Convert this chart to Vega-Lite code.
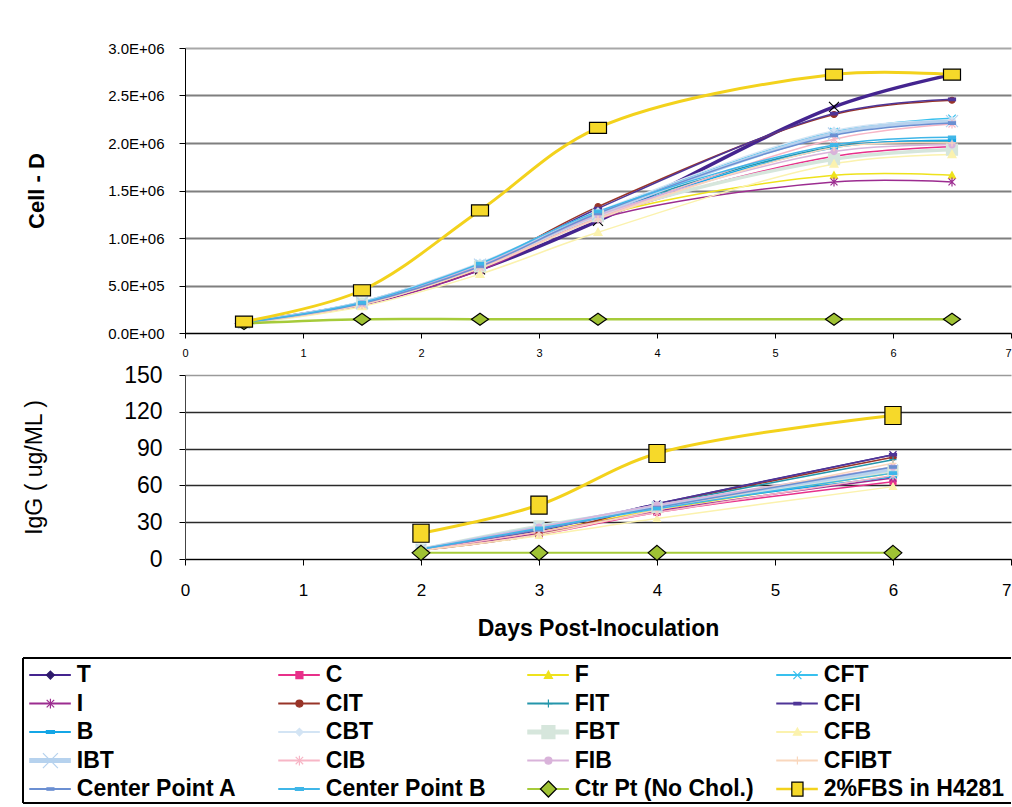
{
  "$schema": "https://vega.github.io/schema/vega-lite/v6.json",
  "background": "white",
  "padding": {"left": 22, "top": 41, "right": 0, "bottom": 0},
  "config": {
    "font": "Liberation Sans",
    "view": {"stroke": null},
    "axis": {"labelColor": "#000", "titleColor": "#000", "domainColor": "#000", "tickColor": "#000", "labelFont": "Liberation Sans", "titleFont": "Liberation Sans"}
  },
  "datasets": {
    "cell": [
      {"series": "T", "day": 0.5, "value": 110000}, {"series": "T", "day": 1.5, "value": 310000}, {"series": "T", "day": 2.5, "value": 670000}, {"series": "T", "day": 3.5, "value": 1180000}, {"series": "T", "day": 5.5, "value": 2380000}, {"series": "T", "day": 6.5, "value": 2720000},
      {"series": "C", "day": 0.5, "value": 110000}, {"series": "C", "day": 1.5, "value": 300000}, {"series": "C", "day": 2.5, "value": 680000}, {"series": "C", "day": 3.5, "value": 1210000}, {"series": "C", "day": 5.5, "value": 1860000}, {"series": "C", "day": 6.5, "value": 1960000},
      {"series": "F", "day": 0.5, "value": 110000}, {"series": "F", "day": 1.5, "value": 300000}, {"series": "F", "day": 2.5, "value": 680000}, {"series": "F", "day": 3.5, "value": 1220000}, {"series": "F", "day": 5.5, "value": 1660000}, {"series": "F", "day": 6.5, "value": 1660000},
      {"series": "CFT", "day": 0.5, "value": 110000}, {"series": "CFT", "day": 1.5, "value": 330000}, {"series": "CFT", "day": 2.5, "value": 730000}, {"series": "CFT", "day": 3.5, "value": 1270000}, {"series": "CFT", "day": 5.5, "value": 2120000}, {"series": "CFT", "day": 6.5, "value": 2260000},
      {"series": "I", "day": 0.5, "value": 110000}, {"series": "I", "day": 1.5, "value": 290000}, {"series": "I", "day": 2.5, "value": 660000}, {"series": "I", "day": 3.5, "value": 1200000}, {"series": "I", "day": 5.5, "value": 1590000}, {"series": "I", "day": 6.5, "value": 1590000},
      {"series": "CIT", "day": 0.5, "value": 110000}, {"series": "CIT", "day": 1.5, "value": 320000}, {"series": "CIT", "day": 2.5, "value": 710000}, {"series": "CIT", "day": 3.5, "value": 1330000}, {"series": "CIT", "day": 5.5, "value": 2300000}, {"series": "CIT", "day": 6.5, "value": 2450000},
      {"series": "FIT", "day": 0.5, "value": 110000}, {"series": "FIT", "day": 1.5, "value": 320000}, {"series": "FIT", "day": 2.5, "value": 720000}, {"series": "FIT", "day": 3.5, "value": 1260000}, {"series": "FIT", "day": 5.5, "value": 1960000}, {"series": "FIT", "day": 6.5, "value": 2020000},
      {"series": "CFI", "day": 0.5, "value": 110000}, {"series": "CFI", "day": 1.5, "value": 310000}, {"series": "CFI", "day": 2.5, "value": 700000}, {"series": "CFI", "day": 3.5, "value": 1310000}, {"series": "CFI", "day": 5.5, "value": 2310000}, {"series": "CFI", "day": 6.5, "value": 2460000},
      {"series": "B", "day": 0.5, "value": 110000}, {"series": "B", "day": 1.5, "value": 320000}, {"series": "B", "day": 2.5, "value": 720000}, {"series": "B", "day": 3.5, "value": 1240000}, {"series": "B", "day": 5.5, "value": 1950000}, {"series": "B", "day": 6.5, "value": 2030000},
      {"series": "CBT", "day": 0.5, "value": 110000}, {"series": "CBT", "day": 1.5, "value": 330000}, {"series": "CBT", "day": 2.5, "value": 740000}, {"series": "CBT", "day": 3.5, "value": 1280000}, {"series": "CBT", "day": 5.5, "value": 2130000}, {"series": "CBT", "day": 6.5, "value": 2240000},
      {"series": "FBT", "day": 0.5, "value": 110000}, {"series": "FBT", "day": 1.5, "value": 310000}, {"series": "FBT", "day": 2.5, "value": 700000}, {"series": "FBT", "day": 3.5, "value": 1230000}, {"series": "FBT", "day": 5.5, "value": 1830000}, {"series": "FBT", "day": 6.5, "value": 1930000},
      {"series": "CFB", "day": 0.5, "value": 100000}, {"series": "CFB", "day": 1.5, "value": 280000}, {"series": "CFB", "day": 2.5, "value": 620000}, {"series": "CFB", "day": 3.5, "value": 1060000}, {"series": "CFB", "day": 5.5, "value": 1780000}, {"series": "CFB", "day": 6.5, "value": 1880000},
      {"series": "IBT", "day": 0.5, "value": 110000}, {"series": "IBT", "day": 1.5, "value": 320000}, {"series": "IBT", "day": 2.5, "value": 720000}, {"series": "IBT", "day": 3.5, "value": 1250000}, {"series": "IBT", "day": 5.5, "value": 2100000}, {"series": "IBT", "day": 6.5, "value": 2230000},
      {"series": "CIB", "day": 0.5, "value": 110000}, {"series": "CIB", "day": 1.5, "value": 300000}, {"series": "CIB", "day": 2.5, "value": 690000}, {"series": "CIB", "day": 3.5, "value": 1210000}, {"series": "CIB", "day": 5.5, "value": 2040000}, {"series": "CIB", "day": 6.5, "value": 2200000},
      {"series": "FIB", "day": 0.5, "value": 110000}, {"series": "FIB", "day": 1.5, "value": 310000}, {"series": "FIB", "day": 2.5, "value": 710000}, {"series": "FIB", "day": 3.5, "value": 1240000}, {"series": "FIB", "day": 5.5, "value": 1910000}, {"series": "FIB", "day": 6.5, "value": 1980000},
      {"series": "CFIBT", "day": 0.5, "value": 110000}, {"series": "CFIBT", "day": 1.5, "value": 300000}, {"series": "CFIBT", "day": 2.5, "value": 680000}, {"series": "CFIBT", "day": 3.5, "value": 1200000}, {"series": "CFIBT", "day": 5.5, "value": 1950000}, {"series": "CFIBT", "day": 6.5, "value": 2000000},
      {"series": "Center Point A", "day": 0.5, "value": 110000}, {"series": "Center Point A", "day": 1.5, "value": 310000}, {"series": "Center Point A", "day": 2.5, "value": 700000}, {"series": "Center Point A", "day": 3.5, "value": 1260000}, {"series": "Center Point A", "day": 5.5, "value": 2080000}, {"series": "Center Point A", "day": 6.5, "value": 2210000},
      {"series": "Center Point B", "day": 0.5, "value": 110000}, {"series": "Center Point B", "day": 1.5, "value": 320000}, {"series": "Center Point B", "day": 2.5, "value": 730000}, {"series": "Center Point B", "day": 3.5, "value": 1280000}, {"series": "Center Point B", "day": 5.5, "value": 1980000}, {"series": "Center Point B", "day": 6.5, "value": 2060000},
      {"series": "Ctr Pt (No Chol.)", "day": 0.5, "value": 100000}, {"series": "Ctr Pt (No Chol.)", "day": 1.5, "value": 145000}, {"series": "Ctr Pt (No Chol.)", "day": 2.5, "value": 145000}, {"series": "Ctr Pt (No Chol.)", "day": 3.5, "value": 145000}, {"series": "Ctr Pt (No Chol.)", "day": 5.5, "value": 145000}, {"series": "Ctr Pt (No Chol.)", "day": 6.5, "value": 145000},
      {"series": "2%FBS in H4281", "day": 0.5, "value": 120000}, {"series": "2%FBS in H4281", "day": 1.5, "value": 450000}, {"series": "2%FBS in H4281", "day": 2.5, "value": 1290000}, {"series": "2%FBS in H4281", "day": 3.5, "value": 2160000}, {"series": "2%FBS in H4281", "day": 5.5, "value": 2720000}, {"series": "2%FBS in H4281", "day": 6.5, "value": 2720000}
    ],
    "igg": [
      {"series": "T", "day": 2, "value": 7}, {"series": "T", "day": 3, "value": 23}, {"series": "T", "day": 4, "value": 45}, {"series": "T", "day": 6, "value": 85},
      {"series": "C", "day": 2, "value": 7}, {"series": "C", "day": 3, "value": 20}, {"series": "C", "day": 4, "value": 38}, {"series": "C", "day": 6, "value": 63},
      {"series": "F", "day": 2, "value": 7}, {"series": "F", "day": 3, "value": 22}, {"series": "F", "day": 4, "value": 40}, {"series": "F", "day": 6, "value": 70},
      {"series": "CFT", "day": 2, "value": 8}, {"series": "CFT", "day": 3, "value": 25}, {"series": "CFT", "day": 4, "value": 42}, {"series": "CFT", "day": 6, "value": 72},
      {"series": "I", "day": 2, "value": 7}, {"series": "I", "day": 3, "value": 21}, {"series": "I", "day": 4, "value": 39}, {"series": "I", "day": 6, "value": 66},
      {"series": "CIT", "day": 2, "value": 7}, {"series": "CIT", "day": 3, "value": 20}, {"series": "CIT", "day": 4, "value": 44}, {"series": "CIT", "day": 6, "value": 83},
      {"series": "FIT", "day": 2, "value": 8}, {"series": "FIT", "day": 3, "value": 24}, {"series": "FIT", "day": 4, "value": 44}, {"series": "FIT", "day": 6, "value": 81},
      {"series": "CFI", "day": 2, "value": 7}, {"series": "CFI", "day": 3, "value": 24}, {"series": "CFI", "day": 4, "value": 45}, {"series": "CFI", "day": 6, "value": 85},
      {"series": "B", "day": 2, "value": 8}, {"series": "B", "day": 3, "value": 25}, {"series": "B", "day": 4, "value": 42}, {"series": "B", "day": 6, "value": 67},
      {"series": "CBT", "day": 2, "value": 8}, {"series": "CBT", "day": 3, "value": 26}, {"series": "CBT", "day": 4, "value": 44}, {"series": "CBT", "day": 6, "value": 74},
      {"series": "FBT", "day": 2, "value": 8}, {"series": "FBT", "day": 3, "value": 27}, {"series": "FBT", "day": 4, "value": 42}, {"series": "FBT", "day": 6, "value": 72},
      {"series": "CFB", "day": 2, "value": 7}, {"series": "CFB", "day": 3, "value": 19}, {"series": "CFB", "day": 4, "value": 33}, {"series": "CFB", "day": 6, "value": 59},
      {"series": "IBT", "day": 2, "value": 8}, {"series": "IBT", "day": 3, "value": 26}, {"series": "IBT", "day": 4, "value": 43}, {"series": "IBT", "day": 6, "value": 73},
      {"series": "CIB", "day": 2, "value": 7}, {"series": "CIB", "day": 3, "value": 22}, {"series": "CIB", "day": 4, "value": 38}, {"series": "CIB", "day": 6, "value": 68},
      {"series": "FIB", "day": 2, "value": 8}, {"series": "FIB", "day": 3, "value": 26}, {"series": "FIB", "day": 4, "value": 44}, {"series": "FIB", "day": 6, "value": 75},
      {"series": "CFIBT", "day": 2, "value": 7}, {"series": "CFIBT", "day": 3, "value": 20}, {"series": "CFIBT", "day": 4, "value": 40}, {"series": "CFIBT", "day": 6, "value": 78},
      {"series": "Center Point A", "day": 2, "value": 8}, {"series": "Center Point A", "day": 3, "value": 24}, {"series": "Center Point A", "day": 4, "value": 42}, {"series": "Center Point A", "day": 6, "value": 75},
      {"series": "Center Point B", "day": 2, "value": 8}, {"series": "Center Point B", "day": 3, "value": 25}, {"series": "Center Point B", "day": 4, "value": 41}, {"series": "Center Point B", "day": 6, "value": 70},
      {"series": "Ctr Pt (No Chol.)", "day": 2, "value": 5}, {"series": "Ctr Pt (No Chol.)", "day": 3, "value": 5}, {"series": "Ctr Pt (No Chol.)", "day": 4, "value": 5}, {"series": "Ctr Pt (No Chol.)", "day": 6, "value": 5},
      {"series": "2%FBS in H4281", "day": 2, "value": 21}, {"series": "2%FBS in H4281", "day": 3, "value": 44}, {"series": "2%FBS in H4281", "day": 4, "value": 86}, {"series": "2%FBS in H4281", "day": 6, "value": 117}
    ],
    "legend": [
      {"series": "T"}, {"series": "C"}, {"series": "F"}, {"series": "CFT"},
      {"series": "I"}, {"series": "CIT"}, {"series": "FIT"}, {"series": "CFI"},
      {"series": "B"}, {"series": "CBT"}, {"series": "FBT"}, {"series": "CFB"},
      {"series": "IBT"}, {"series": "CIB"}, {"series": "FIB"}, {"series": "CFIBT"},
      {"series": "Center Point A"}, {"series": "Center Point B"}, {"series": "Ctr Pt (No Chol.)"}, {"series": "2%FBS in H4281"}
    ]
  },
  "resolve": {"scale": {"shape": "independent", "size": "independent", "color": "independent", "fill": "independent", "stroke": "independent", "strokeWidth": "independent"}},
  "spacing": 17,
  "vconcat": [
    {
      "spacing": 6,
      "resolve": {"scale": {"shape": "independent", "size": "independent", "color": "independent", "fill": "independent", "stroke": "independent", "strokeWidth": "independent"}},
      "vconcat": [
        {
          "width": 826,
          "height": 285,
          "data": {"name": "cell"},
          "encoding": {
            "x": {"field": "day", "type": "quantitative", "scale": {"domain": [0, 7], "nice": false},
              "axis": {"values": [0, 1, 2, 3, 4, 5, 6, 7], "title": null, "grid": false, "labelFontSize": 11, "tickSize": 5, "labelPadding": 9,
                "labelAlign": {"condition": {"test": "datum.value == 7", "value": "right"}, "value": "center"}}},
            "y": {"field": "value", "type": "quantitative", "scale": {"domain": [0, 3000000], "nice": false},
              "axis": {"values": [0, 500000, 1000000, 1500000, 2000000, 2500000, 3000000], "title": "Cell - D", "titleFontSize": 22, "titleFontWeight": "bold", "titlePadding": 59,
                "labelFontSize": 15, "labelPadding": 15, "tickSize": 6, "grid": true, "gridWidth": 1.8,
                "gridColor": {"condition": {"test": "datum.value == 3000000", "value": "#a8a8a8"}, "value": "#7f7f7f"},
                "labelExpr": "datum.value == 0 ? '0.0E+00' : (datum.value < 1000000 ? format(datum.value / 100000, '.1f') + 'E+05' : format(datum.value / 1000000, '.1f') + 'E+06')"}}
          },
          "layer": [
            {
              "mark": {"type": "line", "interpolate": "catmull-rom"},
              "encoding": {
                "color": {"field": "series", "type": "nominal", "legend": null, "scale": {"domain": ["T","C","F","CFT","I","CIT","FIT","CFI","B","CBT","FBT","CFB","IBT","CIB","FIB","CFIBT","Center Point A","Center Point B","Ctr Pt (No Chol.)","2%FBS in H4281"], "range": ["#44248f","#e8308a","#eee21c","#38c0ee","#9c2c90","#983428","#2496ab","#4f3597","#14a6e6","#d3e4f4","#d6e6dc","#fbf2ae","#b6d2ee","#f7b6c6","#d9b3da","#f9d7bd","#6b8fd2","#3fb6e8","#a6cb3a","#f3d21c"]}},
                "strokeWidth": {"field": "series", "type": "nominal", "legend": null, "scale": {"type": "ordinal", "domain": ["T","C","F","CFT","I","CIT","FIT","CFI","B","CBT","FBT","CFB","IBT","CIB","FIB","CFIBT","Center Point A","Center Point B","Ctr Pt (No Chol.)","2%FBS in H4281"], "range": [3.5,1.5,1.5,1.5,1.5,1.5,1.5,1.5,1.5,1.5,3.5,1.5,3.5,1.5,1.5,1.5,1.5,1.5,2.5,3]}}
              }
            },
            {
              "transform": [{"window": [{"op": "row_number", "as": "ord"}]}],
              "mark": {"type": "point", "filled": true, "opacity": 1, "strokeWidth": 1.2},
              "encoding": {
                "order": {"field": "ord", "type": "quantitative", "sort": "ascending"},
                "shape": {"field": "series", "type": "nominal", "legend": null, "scale": {"domain": ["T","C","F","CFT","I","CIT","FIT","CFI","B","CBT","FBT","CFB","IBT","CIB","FIB","CFIBT","Center Point A","Center Point B","Ctr Pt (No Chol.)","2%FBS in H4281"], "range": ["M-1,-1L1,1M-1,1L1,-1","M-1,-1H1V1H-1Z","M0,-1L1,0.8H-1Z","M-1,-1L1,1M-1,1L1,-1","M-1,-1L1,1M-1,1L1,-1M0,-1.3V1.3","circle","M-1,0H1M0,-1V1","M-1,-0.35H1V0.35H-1Z","M-1,-0.35H1V0.35H-1Z","M0,-1L1,0L0,1L-1,0Z","M-1,-1H1V1H-1Z","M0,-1L1,0.8H-1Z","M-1,-1L1,1M-1,1L1,-1","M-1,-1L1,1M-1,1L1,-1M0,-1.3V1.3","circle","M-1,0H1M0,-1V1","M-1,-0.35H1V0.35H-1Z","M-1,-0.35H1V0.35H-1Z","M0,-0.7L1,0L0,0.7L-1,0Z","M-1,-0.65H1V0.65H-1Z"]}},
                "fill": {"field": "series", "type": "nominal", "legend": null, "scale": {"domain": ["T","C","F","CFT","I","CIT","FIT","CFI","B","CBT","FBT","CFB","IBT","CIB","FIB","CFIBT","Center Point A","Center Point B","Ctr Pt (No Chol.)","2%FBS in H4281"], "range": ["#000000","#e8308a","#eee21c","#38c0ee","#9c2c90","#983428","#2496ab","#4f3597","#14a6e6","#d3e4f4","#d6e6dc","#fbf2ae","#b6d2ee","#f7b6c6","#d9b3da","#f9d7bd","#6b8fd2","#3fb6e8","#9fc234","#f6d92a"]}},
                "stroke": {"field": "series", "type": "nominal", "legend": null, "scale": {"domain": ["T","C","F","CFT","I","CIT","FIT","CFI","B","CBT","FBT","CFB","IBT","CIB","FIB","CFIBT","Center Point A","Center Point B","Ctr Pt (No Chol.)","2%FBS in H4281"], "range": ["#000000","#e8308a","#eee21c","#38c0ee","#9c2c90","#983428","#2496ab","#4f3597","#14a6e6","#d3e4f4","#d6e6dc","#fbf2ae","#b6d2ee","#f7b6c6","#d9b3da","#f9d7bd","#6b8fd2","#3fb6e8","#000000","#000000"]}},
                "size": {"field": "series", "type": "nominal", "legend": null, "scale": {"type": "ordinal", "domain": ["T","C","F","CFT","I","CIT","FIT","CFI","B","CBT","FBT","CFB","IBT","CIB","FIB","CFIBT","Center Point A","Center Point B","Ctr Pt (No Chol.)","2%FBS in H4281"], "range": [100,36,49,56,49,36,49,49,49,49,121,64,144,49,36,49,49,49,289,289]}}
              }
            }
          ]
        },
        {
          "width": 826,
          "height": 184,
          "data": {"name": "igg"},
          "encoding": {
            "x": {"field": "day", "type": "quantitative", "scale": {"domain": [0, 7], "nice": false},
              "axis": {"values": [0, 1, 2, 3, 4, 5, 6, 7], "title": "Days Post-Inoculation", "titleFontSize": 23, "titleFontWeight": "bold", "titlePadding": 19, "grid": false, "labelFontSize": 17, "tickSize": 6, "labelPadding": 17,
                "labelAlign": {"condition": {"test": "datum.value == 7", "value": "right"}, "value": "center"}}},
            "y": {"field": "value", "type": "quantitative", "scale": {"domain": [0, 150], "nice": false},
              "axis": {"values": [0, 30, 60, 90, 120, 150], "title": "IgG  ( ug/ML )", "titleFontSize": 23, "titleFontWeight": "normal", "titlePadding": 77,
                "labelFontSize": 23, "labelPadding": 17, "tickSize": 6, "domainColor": "#444", "grid": true, "gridWidth": 1.3,
                "gridColor": {"condition": {"test": "datum.value == 150", "value": "#9a9a9a"}, "value": "#2a2a2a"}}}
          },
          "layer": [
            {
              "mark": {"type": "line", "interpolate": "catmull-rom"},
              "encoding": {
                "color": {"field": "series", "type": "nominal", "legend": null, "scale": {"domain": ["T","C","F","CFT","I","CIT","FIT","CFI","B","CBT","FBT","CFB","IBT","CIB","FIB","CFIBT","Center Point A","Center Point B","Ctr Pt (No Chol.)","2%FBS in H4281"], "range": ["#44248f","#e8308a","#eee21c","#38c0ee","#9c2c90","#983428","#2496ab","#4f3597","#14a6e6","#d3e4f4","#d6e6dc","#fbf2ae","#b6d2ee","#f7b6c6","#d9b3da","#f9d7bd","#6b8fd2","#3fb6e8","#a6cb3a","#f3d21c"]}},
                "strokeWidth": {"field": "series", "type": "nominal", "legend": null, "scale": {"type": "ordinal", "domain": ["T","C","F","CFT","I","CIT","FIT","CFI","B","CBT","FBT","CFB","IBT","CIB","FIB","CFIBT","Center Point A","Center Point B","Ctr Pt (No Chol.)","2%FBS in H4281"], "range": [1.5,1.5,1.5,1.5,1.5,1.5,1.5,1.5,1.5,1.5,3,1.5,3,1.5,1.5,1.5,1.5,1.5,2,3]}}
              }
            },
            {
              "transform": [{"window": [{"op": "row_number", "as": "ord"}]}],
              "mark": {"type": "point", "filled": true, "opacity": 1, "strokeWidth": 1.2},
              "encoding": {
                "order": {"field": "ord", "type": "quantitative", "sort": "ascending"},
                "shape": {"field": "series", "type": "nominal", "legend": null, "scale": {"domain": ["T","C","F","CFT","I","CIT","FIT","CFI","B","CBT","FBT","CFB","IBT","CIB","FIB","CFIBT","Center Point A","Center Point B","Ctr Pt (No Chol.)","2%FBS in H4281"], "range": ["M-1,-1L1,1M-1,1L1,-1","M-1,-1H1V1H-1Z","M0,-1L1,0.8H-1Z","M-1,-1L1,1M-1,1L1,-1","M-1,-1L1,1M-1,1L1,-1M0,-1.3V1.3","circle","M-1,0H1M0,-1V1","M-1,-0.35H1V0.35H-1Z","M-1,-0.35H1V0.35H-1Z","M0,-1L1,0L0,1L-1,0Z","M-1,-1H1V1H-1Z","M0,-1L1,0.8H-1Z","M-1,-1L1,1M-1,1L1,-1","M-1,-1L1,1M-1,1L1,-1M0,-1.3V1.3","circle","M-1,0H1M0,-1V1","M-1,-0.35H1V0.35H-1Z","M-1,-0.35H1V0.35H-1Z","M0,-0.85L1,0L0,0.85L-1,0Z","M-0.9,-1H0.9V1H-0.9Z"]}},
                "fill": {"field": "series", "type": "nominal", "legend": null, "scale": {"domain": ["T","C","F","CFT","I","CIT","FIT","CFI","B","CBT","FBT","CFB","IBT","CIB","FIB","CFIBT","Center Point A","Center Point B","Ctr Pt (No Chol.)","2%FBS in H4281"], "range": ["#44248f","#e8308a","#eee21c","#38c0ee","#9c2c90","#983428","#2496ab","#4f3597","#14a6e6","#d3e4f4","#d6e6dc","#fbf2ae","#b6d2ee","#f7b6c6","#d9b3da","#f9d7bd","#6b8fd2","#3fb6e8","#9fc234","#f6d92a"]}},
                "stroke": {"field": "series", "type": "nominal", "legend": null, "scale": {"domain": ["T","C","F","CFT","I","CIT","FIT","CFI","B","CBT","FBT","CFB","IBT","CIB","FIB","CFIBT","Center Point A","Center Point B","Ctr Pt (No Chol.)","2%FBS in H4281"], "range": ["#44248f","#e8308a","#eee21c","#38c0ee","#9c2c90","#983428","#2496ab","#4f3597","#14a6e6","#d3e4f4","#d6e6dc","#fbf2ae","#b6d2ee","#f7b6c6","#d9b3da","#f9d7bd","#6b8fd2","#3fb6e8","#000000","#000000"]}},
                "size": {"field": "series", "type": "nominal", "legend": null, "scale": {"type": "ordinal", "domain": ["T","C","F","CFT","I","CIT","FIT","CFI","B","CBT","FBT","CFB","IBT","CIB","FIB","CFIBT","Center Point A","Center Point B","Ctr Pt (No Chol.)","2%FBS in H4281"], "range": [49,36,49,49,49,36,49,49,49,49,100,49,100,49,36,49,49,49,313,324]}}
              }
            }
          ]
        }
      ]
    },
    {
      "width": 826,
      "height": 145,
      "data": {"name": "legend"},
      "transform": [
        {"window": [{"op": "row_number", "as": "idx"}]},
        {"calculate": "(datum.idx - 1) % 4", "as": "col"},
        {"calculate": "floor((datum.idx - 1) / 4)", "as": "row"},
        {"calculate": "datum.col + 0.005", "as": "lx1"},
        {"calculate": "datum.col + 0.172", "as": "lx2"},
        {"calculate": "datum.col + 0.09", "as": "mx"},
        {"calculate": "datum.col + 0.196", "as": "tx"}
      ],
      "layer": [
        {
          "mark": {"type": "rule", "color": "#000", "strokeWidth": 1.2},
          "encoding": {
            "x": {"datum": -0.02, "type": "quantitative", "scale": {"domain": [0.6305, 3.9478], "nice": false, "zero": false}, "axis": null},
            "y": {"datum": -0.6, "type": "quantitative", "scale": {"domain": [-0.6, 4.49], "reverse": true, "nice": false, "zero": false}, "axis": null},
            "y2": {"datum": 4.49}
          }
        },
        {
          "mark": {"type": "rule", "color": "#000", "strokeWidth": 1.2},
          "encoding": {
            "x": {"datum": -0.02, "type": "quantitative"},
            "x2": {"datum": 3.9478},
            "y": {"datum": -0.6, "type": "quantitative"}
          }
        },
        {
          "mark": {"type": "rule", "color": "#000", "strokeWidth": 1.2},
          "encoding": {
            "x": {"datum": -0.02, "type": "quantitative"},
            "x2": {"datum": 3.9478},
            "y": {"datum": 4.49, "type": "quantitative"}
          }
        },
        {
          "mark": {"type": "rule"},
          "encoding": {
            "x": {"field": "lx1", "type": "quantitative"},
            "x2": {"field": "lx2"},
            "y": {"field": "row", "type": "quantitative"},
            "color": {"field": "series", "type": "nominal", "legend": null, "scale": {"domain": ["T","C","F","CFT","I","CIT","FIT","CFI","B","CBT","FBT","CFB","IBT","CIB","FIB","CFIBT","Center Point A","Center Point B","Ctr Pt (No Chol.)","2%FBS in H4281"], "range": ["#44248f","#e8308a","#eee21c","#38c0ee","#9c2c90","#983428","#2496ab","#4f3597","#14a6e6","#d3e4f4","#d6e6dc","#fbf2ae","#b6d2ee","#f7b6c6","#d9b3da","#f9d7bd","#6b8fd2","#3fb6e8","#a6cb3a","#f3d21c"]}},
            "strokeWidth": {"field": "series", "type": "nominal", "legend": null, "scale": {"type": "ordinal", "domain": ["T","C","F","CFT","I","CIT","FIT","CFI","B","CBT","FBT","CFB","IBT","CIB","FIB","CFIBT","Center Point A","Center Point B","Ctr Pt (No Chol.)","2%FBS in H4281"], "range": [2,2,2,2,2,2,2,2,2,2,5,2,5,2,2,2,2,2,2,2.5]}}
          }
        },
        {
          "mark": {"type": "point", "filled": true, "opacity": 1, "strokeWidth": 1.2},
          "encoding": {
            "x": {"field": "mx", "type": "quantitative"},
            "y": {"field": "row", "type": "quantitative"},
            "shape": {"field": "series", "type": "nominal", "legend": null, "scale": {"domain": ["T","C","F","CFT","I","CIT","FIT","CFI","B","CBT","FBT","CFB","IBT","CIB","FIB","CFIBT","Center Point A","Center Point B","Ctr Pt (No Chol.)","2%FBS in H4281"], "range": ["M0,-1L1,0L0,1L-1,0Z","M-1,-1H1V1H-1Z","M0,-1L1,0.8H-1Z","M-1,-1L1,1M-1,1L1,-1","M-1,-1L1,1M-1,1L1,-1M0,-1.3V1.3","circle","M-1,0H1M0,-1V1","M-1,-0.35H1V0.35H-1Z","M-1,-0.35H1V0.35H-1Z","M0,-1L1,0L0,1L-1,0Z","M-1,-1H1V1H-1Z","M0,-1L1,0.8H-1Z","M-1,-1L1,1M-1,1L1,-1","M-1,-1L1,1M-1,1L1,-1M0,-1.3V1.3","circle","M-1,0H1M0,-1V1","M-1,-0.35H1V0.35H-1Z","M-1,-0.35H1V0.35H-1Z","M0,-1L1,0L0,1L-1,0Z","M-0.8,-1H0.8V1H-0.8Z"]}},
            "fill": {"field": "series", "type": "nominal", "legend": null, "scale": {"domain": ["T","C","F","CFT","I","CIT","FIT","CFI","B","CBT","FBT","CFB","IBT","CIB","FIB","CFIBT","Center Point A","Center Point B","Ctr Pt (No Chol.)","2%FBS in H4281"], "range": ["#2e1a6b","#e8308a","#eee21c","#38c0ee","#9c2c90","#983428","#2496ab","#4f3597","#14a6e6","#d3e4f4","#d6e6dc","#fbf2ae","#b6d2ee","#f7b6c6","#d9b3da","#f9d7bd","#6b8fd2","#3fb6e8","#9fc234","#f6d92a"]}},
            "stroke": {"field": "series", "type": "nominal", "legend": null, "scale": {"domain": ["T","C","F","CFT","I","CIT","FIT","CFI","B","CBT","FBT","CFB","IBT","CIB","FIB","CFIBT","Center Point A","Center Point B","Ctr Pt (No Chol.)","2%FBS in H4281"], "range": ["#2e1a6b","#e8308a","#eee21c","#38c0ee","#9c2c90","#983428","#2496ab","#4f3597","#14a6e6","#d3e4f4","#d6e6dc","#fbf2ae","#b6d2ee","#f7b6c6","#d9b3da","#f9d7bd","#6b8fd2","#3fb6e8","#000000","#000000"]}},
            "size": {"field": "series", "type": "nominal", "legend": null, "scale": {"type": "ordinal", "domain": ["T","C","F","CFT","I","CIT","FIT","CFI","B","CBT","FBT","CFB","IBT","CIB","FIB","CFIBT","Center Point A","Center Point B","Ctr Pt (No Chol.)","2%FBS in H4281"], "range": [64,49,64,64,56,49,64,49,64,56,169,64,225,56,49,64,49,64,256,196]}}
          }
        },
        {
          "mark": {"type": "text", "align": "left", "baseline": "middle", "fontSize": 23, "fontWeight": "bold", "font": "Liberation Sans", "color": "#000"},
          "encoding": {
            "x": {"field": "tx", "type": "quantitative"},
            "y": {"field": "row", "type": "quantitative"},
            "text": {"field": "series", "type": "nominal"}
          }
        }
      ]
    }
  ]
}
